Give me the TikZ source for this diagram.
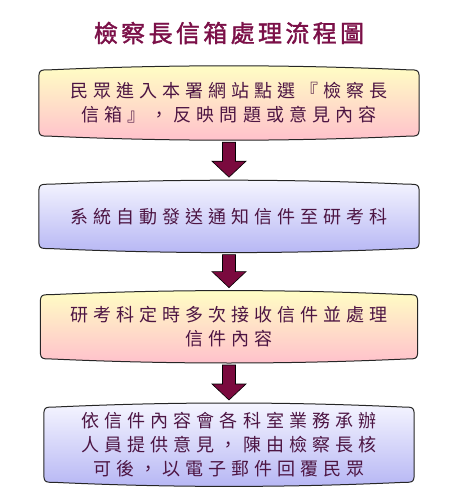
\documentclass[tikz,border=0pt]{standalone}
\usepackage{fontspec}
\newfontfamily\cjk[LetterSpace=28]{Noto Sans CJK TC}
\newfontfamily\cjktitle[LetterSpace=14,FakeBold=1.5]{Noto Sans CJK TC}
\usetikzlibrary{positioning}
\usetikzlibrary{calc}
\usetikzlibrary{backgrounds}

\definecolor{titlered}{HTML}{7B1048}
\definecolor{textpurple}{HTML}{4D1543}
\definecolor{arrowred}{HTML}{7A0A3E}
\definecolor{paleyellow}{HTML}{FFFFC4}
\definecolor{palepink}{HTML}{FFC0CC}
\definecolor{paleblue}{HTML}{F6F6FF}
\definecolor{lavender}{HTML}{B6B6F4}

% box outline with bulging top and bottom edges
\newcommand{\bubble}[2]{%
  \path[bubbleline,#2] let \p1=(#1.north west), \p2=(#1.south east) in
    (\x1,\y1-16pt) -- (\x1,\y2+16pt)
    .. controls (\x1,\y2+4pt) .. (\x1+12pt,\y2+4pt)
    .. controls ({\x1+12pt+(\x2-\x1-24pt)/3},\y2-1.33pt) and ({\x2-12pt-(\x2-\x1-24pt)/3},\y2-1.33pt) .. (\x2-12pt,\y2+4pt)
    .. controls (\x2,\y2+4pt) .. (\x2,\y2+16pt)
    -- (\x2,\y1-16pt)
    .. controls (\x2,\y1-4pt) .. (\x2-12pt,\y1-4pt)
    .. controls ({\x2-12pt-(\x2-\x1-24pt)/3},\y1+1.33pt) and ({\x1+12pt+(\x2-\x1-24pt)/3},\y1+1.33pt) .. (\x1+12pt,\y1-4pt)
    .. controls (\x1,\y1-4pt) .. (\x1,\y1-16pt) -- cycle;}

\begin{document}
\begin{tikzpicture}[x=1pt, y=-1pt,
                    node distance=40pt,
                    titletext/.style={text=titlered, font={\cjktitle\fontsize{24}{28}\selectfont}},
                    steptext/.style={text=textpurple, align=center, minimum width=380pt, minimum height=72pt,
                                     inner sep=0pt, font={\cjk\fontsize{18}{24}\selectfont}},
                    bubbleline/.style={draw=black!85, line width=1pt},
                    warmfill/.style={top color=paleyellow, bottom color=palepink},
                    coolfill/.style={top color=paleblue, bottom color=lavender},
                    downarrow/.style={fill=arrowred, draw=black, line width=0.6pt,
                                      to path={let \p1=(\tikztostart), \p2=(\tikztotarget) in
                                               (\x1-6.5pt,\y1-2pt) -- (\x1+6.5pt,\y1-2pt) -- (\x1+6.5pt,\y2+19pt)
                                               -- (\x1+17pt,\y2+19pt) -- (\x1,\y2+3pt) -- (\x1-17pt,\y2+19pt)
                                               -- (\x1-6.5pt,\y2+19pt) -- cycle}},
                   ]
  \useasboundingbox (0,0) rectangle (458,500);

  % Nodes
  \node[titletext]                      (title)   at (229,33)          {檢察長信箱處理流程圖};

  \node[steptext, minimum height=74pt]  (submit)  at (229,103)         {民眾進入本署網站點選『檢察長\\信箱』，反映問題或意見內容};
  \node[steptext]                       (notify)  [below=of submit]    {系統自動發送通知信件至研考科};
  \node[steptext, minimum width=377pt]  (receive) [below=38pt of notify] {研考科定時多次接收信件並處理\\信件內容};
  \node[steptext, minimum width=370pt, minimum height=83pt] (reply) [below=of receive] {依信件內容會各科室業務承辦\\人員提供意見，陳由檢察長核\\可後，以電子郵件回覆民眾};

  % Boxes
  \begin{pgfonlayer}{background}
    \bubble{submit}{warmfill}
    \bubble{notify}{coolfill}
    \bubble{receive}{warmfill}
    \bubble{reply}{coolfill}
  \end{pgfonlayer}

  %Arrows
  \draw[downarrow] (submit.south) to (notify.north);
  \draw[downarrow] (notify.south) to (receive.north);
  \draw[downarrow] (receive.south) to (reply.north);
\end{tikzpicture}
\end{document}
